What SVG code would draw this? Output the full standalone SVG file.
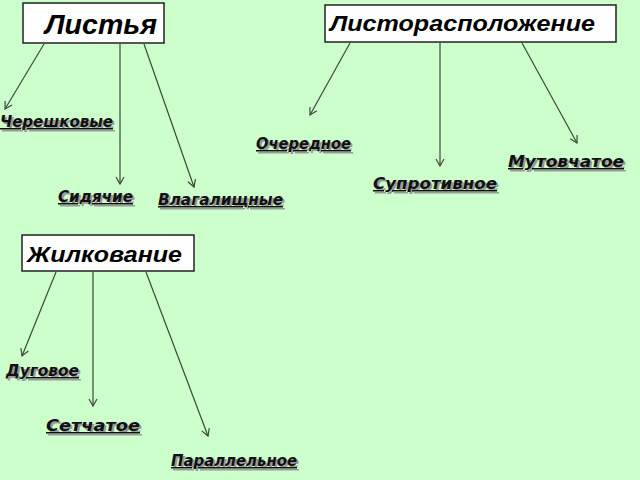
<svg xmlns="http://www.w3.org/2000/svg" width="640" height="480" viewBox="0 0 640 480">
<defs>
<marker id="arr" markerWidth="10" markerHeight="10" refX="8" refY="5" orient="auto" markerUnits="userSpaceOnUse">
<path d="M1,1 L8,5 L1,9" fill="none" stroke="#3a4a3a" stroke-width="1.2"/>
</marker>
</defs>
<style>
.box{fill:#ffffff;stroke:#222;stroke-width:1.5}
.title{font-family:"Liberation Sans",Arial,sans-serif;font-weight:bold;font-style:italic;fill:#000}
.lbl{font-family:"DejaVu Sans","Liberation Sans",sans-serif;font-weight:bold;font-style:italic;font-size:15px;fill:#111;text-decoration:underline}
.sh{font-family:"DejaVu Sans","Liberation Sans",sans-serif;font-weight:bold;font-style:italic;font-size:15px;fill:#999;text-decoration:underline}
.con line{stroke:#3a4a3a;stroke-width:1.2;marker-end:url(#arr)}
</style>
<rect width="640" height="480" fill="#ccffcc"/>
<g id="n-listya">
<rect class="box" x="23" y="3" width="141" height="40"/>
<text class="title" x="45" y="34" font-size="28" textLength="112" lengthAdjust="spacingAndGlyphs">Листья</text>
</g>
<g id="n-listorasp">
<rect class="box" x="325" y="5" width="291" height="37"/>
<text class="title" x="330" y="31" font-size="22" textLength="265" lengthAdjust="spacingAndGlyphs">Листорасположение</text>
</g>
<g id="n-zhilk">
<rect class="box" x="22" y="235" width="172" height="36"/>
<text class="title" x="27" y="262" font-size="22" textLength="155" lengthAdjust="spacingAndGlyphs">Жилкование</text>
</g>
<g class="con" id="connectors">
<line x1="44" y1="44" x2="5" y2="109"/>
<line x1="120" y1="44" x2="120" y2="184"/>
<line x1="144" y1="44" x2="194" y2="187"/>
<line x1="350" y1="43" x2="310" y2="115"/>
<line x1="440" y1="43" x2="440" y2="166"/>
<line x1="522" y1="43" x2="577" y2="143"/>
<line x1="56" y1="272" x2="22" y2="356"/>
<line x1="93" y1="272" x2="93" y2="406"/>
<line x1="146" y1="272" x2="208" y2="436"/>
</g>
<g id="l-chereshk"><text class="sh" x="2" y="129" textLength="113" lengthAdjust="spacingAndGlyphs">Черешковые</text><text class="lbl" x="0" y="127" textLength="113" lengthAdjust="spacingAndGlyphs">Черешковые</text></g>
<g id="l-sidyachie"><text class="sh" x="60" y="204" textLength="75" lengthAdjust="spacingAndGlyphs">Сидячие</text><text class="lbl" x="58" y="202" textLength="75" lengthAdjust="spacingAndGlyphs">Сидячие</text></g>
<g id="l-vlagal"><text class="sh" x="160" y="207" textLength="125" lengthAdjust="spacingAndGlyphs">Влагалищные</text><text class="lbl" x="158" y="205" textLength="125" lengthAdjust="spacingAndGlyphs">Влагалищные</text></g>
<g id="l-ochered"><text class="sh" x="258" y="151" textLength="95" lengthAdjust="spacingAndGlyphs">Очередное</text><text class="lbl" x="256" y="149" textLength="95" lengthAdjust="spacingAndGlyphs">Очередное</text></g>
<g id="l-suprot"><text class="sh" x="375" y="191" textLength="124" lengthAdjust="spacingAndGlyphs">Супротивное</text><text class="lbl" x="373" y="189" textLength="124" lengthAdjust="spacingAndGlyphs">Супротивное</text></g>
<g id="l-mutov"><text class="sh" x="510" y="169" textLength="116" lengthAdjust="spacingAndGlyphs">Мутовчатое</text><text class="lbl" x="508" y="167" textLength="116" lengthAdjust="spacingAndGlyphs">Мутовчатое</text></g>
<g id="l-dugovoe"><text class="sh" x="8" y="378" textLength="73" lengthAdjust="spacingAndGlyphs">Дуговое</text><text class="lbl" x="6" y="376" textLength="73" lengthAdjust="spacingAndGlyphs">Дуговое</text></g>
<g id="l-setch"><text class="sh" x="48" y="433" textLength="94" lengthAdjust="spacingAndGlyphs">Сетчатое</text><text class="lbl" x="46" y="431" textLength="94" lengthAdjust="spacingAndGlyphs">Сетчатое</text></g>
<g id="l-parall"><text class="sh" x="173" y="468" textLength="126" lengthAdjust="spacingAndGlyphs">Параллельное</text><text class="lbl" x="171" y="466" textLength="126" lengthAdjust="spacingAndGlyphs">Параллельное</text></g>
</svg>
